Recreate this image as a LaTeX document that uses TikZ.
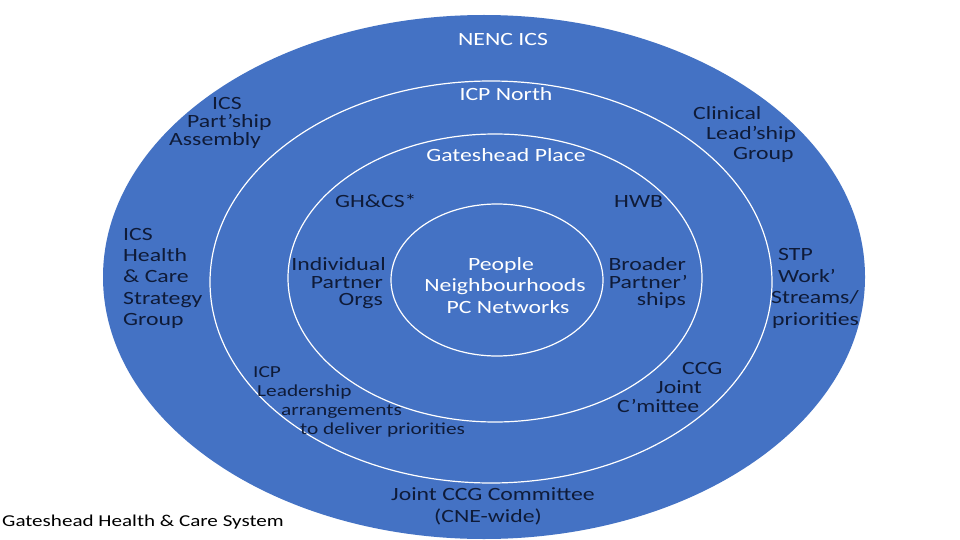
\documentclass[tikz,border=0pt]{standalone}
\usepackage{fontspec}
\setmainfont{Carlito}[FakeStretch=1.27]
\definecolor{ringblue}{HTML}{4472C4}
\definecolor{darktext}{HTML}{0F1B38}
\tikzset{
  ring/.style={draw=white, line width=1.2pt},
  wt/.style={text=white, font=\fontsize{18.7}{21}\selectfont, inner sep=0pt},
  dk/.style={text=darktext, font=\fontsize{18.7}{21}\selectfont, inner sep=0pt},
  dksmall/.style={dk, font=\fontsize{16.8}{19}\selectfont},
  foot/.style={text=black, font=\fontsize{16.6}{20}\selectfont, inner sep=0pt}
}
\begin{document}
\begin{tikzpicture}[x=1pt,y=-1pt]
\useasboundingbox (0,0) rectangle (960,540);
\fill[white] (0,0) rectangle (960,540);
% circles
\fill[ringblue] (484,277) ellipse [x radius=381pt, y radius=262pt];
\draw[ring] (491,282) ellipse [x radius=281pt, y radius=201pt];
\draw[ring] (495,278) ellipse [x radius=207pt, y radius=144pt];
\draw[ring] (497,280) ellipse [x radius=106pt, y radius=76pt];
% white titles
\node[wt, anchor=base] (nenc) at (503,46) {NENC ICS};
\node[wt, anchor=base] (icpn) at (506,101) {ICP North};
\node[wt, anchor=base] (gplace) at (506,162) {Gateshead Place};
\node[wt, anchor=base] (pp1) at (501,270) {People};
\node[wt, anchor=base] (pp2) at (505,291.5) {Neighbourhoods};
\node[wt, anchor=base] (pp3) at (508,313) {PC Networks};
% inner labels
\node[dk, anchor=base west] (ghcs) at (335,207) {GH\&CS*};
\node[dk, anchor=base west] (hwb) at (614,207) {HWB};
\node[dk, anchor=base east] (ip1) at (386,270) {Individual};
\node[dk, anchor=base east] (ip2) at (383,288) {Partner};
\node[dk, anchor=base east] (ip3) at (383,305) {Orgs};
\node[dk, anchor=base east] (bp1) at (686,270) {Broader};
\node[dk, anchor=base east] (bp2) at (688,288) {Partner’};
\node[dk, anchor=base east] (bp3) at (686,305) {ships};
% ICS Part'ship Assembly
\node[dk, anchor=base west] (pa1) at (212,110) {ICS};
\node[dk, anchor=base west] (pa2) at (187,128) {Part’ship};
\node[dk, anchor=base west] (pa3) at (169,146) {Assembly};
% ICS Health & Care Strategy Group
\node[dk, anchor=base west] (hc1) at (123,240) {ICS};
\node[dk, anchor=base west] (hc2) at (123,261) {Health};
\node[dk, anchor=base west] (hc3) at (123,282) {\& Care};
\node[dk, anchor=base west] (hc4) at (123,304) {Strategy};
\node[dk, anchor=base west] (hc5) at (123,325) {Group};
% Clinical Lead'ship Group
\node[dk, anchor=base west] (cl1) at (693,120) {Clinical};
\node[dk, anchor=base west] (cl2) at (706,140) {Lead’ship};
\node[dk, anchor=base west] (cl3) at (733,160) {Group};
% STP Work' Streams/ priorities
\node[dk, anchor=base west] (st1) at (778,260) {STP};
\node[dk, anchor=base west] (st2) at (778,282) {Work’};
\node[dk, anchor=base west] (st3) at (771,303.5) {Streams/};
\node[dk, anchor=base west] (st4) at (772,325) {priorities};
% CCG Joint C'mittee
\node[dk, anchor=base west] (cj1) at (682,374) {CCG};
\node[dk, anchor=base west] (cj2) at (656,393) {Joint};
\node[dk, anchor=base west] (cj3) at (617,412) {C’mittee};
% ICP Leadership arrangements
\node[dksmall, anchor=base west] (il1) at (253,377) {ICP};
\node[dksmall, anchor=base west] (il2) at (257,396) {Leadership};
\node[dksmall, anchor=base west] (il3) at (281,415) {arrangements};
\node[dksmall, anchor=base west] (il4) at (300,434) {to deliver priorities};
% Joint CCG Committee
\node[dk, anchor=base] (jc1) at (493,500) {Joint CCG Committee};
\node[dk, anchor=base] (jc2) at (488,522) {(CNE-wide)};
% footer
\node[foot, anchor=base west] (footer) at (2,526) {Gateshead Health \& Care System};
\end{tikzpicture}
\end{document}
